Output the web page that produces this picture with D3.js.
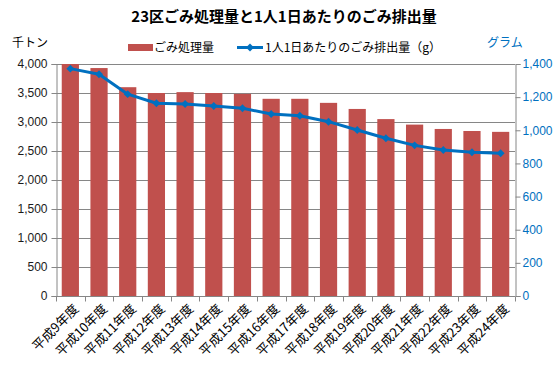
<!DOCTYPE html>
<html>
<head>
<meta charset="utf-8">
<script src="https://cdn.jsdelivr.net/npm/d3@7"></script>
<style>
  body { margin: 0; background: #fff; }
  svg { font-family: "Noto Sans CJK JP", "Noto Sans", sans-serif; }
</style>
</head>
<body>
<div id="chart"></div>
<script>
// Data.
var categories = ['平成9年度', '平成10年度', '平成11年度', '平成12年度', '平成13年度', '平成14年度',
  '平成15年度', '平成16年度', '平成17年度', '平成18年度', '平成19年度', '平成20年度',
  '平成21年度', '平成22年度', '平成23年度', '平成24年度'];
var wasteTotal = [4000, 3930, 3600, 3500, 3515, 3500, 3485, 3400, 3400, 3330, 3225, 3050, 2955, 2880, 2845, 2830];
var perCapita = [1372, 1338, 1218, 1163, 1159, 1147, 1133, 1098, 1088, 1052, 1002, 952, 909, 881, 867, 861];
var leftTicks = [0, 500, 1000, 1500, 2000, 2500, 3000, 3500, 4000];
var rightTicks = [0, 200, 400, 600, 800, 1000, 1200, 1400];

var width = 554, height = 369;
var margin = {top: 64, right: 39, bottom: 73, left: 56};
var barColor = '#C0504D', lineColor = '#0070C0', axisColor = '#868686';

var svg = d3.select('#chart')
            .append('svg')
            .attr('width', width)
            .attr('height', height);

var x = d3.scaleBand()
          .domain(categories)
          .range([margin.left, width - margin.right])
          .paddingInner(0.4)
          .paddingOuter(0.2);

var yLeft = d3.scaleLinear().domain([0, 4000]).range([height - margin.bottom, margin.top]);
var yRight = d3.scaleLinear().domain([0, 1400]).range([height - margin.bottom, margin.top]);

// Gridlines.
svg.append('g')
   .selectAll('line')
   .data(leftTicks.slice(1))
   .join('line')
   .attr('x1', margin.left)
   .attr('x2', width - margin.right)
   .attr('y1', function(d) { return yLeft(d) + 0.5; })
   .attr('y2', function(d) { return yLeft(d) + 0.5; })
   .attr('stroke', axisColor);

// Bars.
svg.append('g')
   .selectAll('rect')
   .data(wasteTotal)
   .join('rect')
   .attr('x', function(d, i) { return x(categories[i]); })
   .attr('y', function(d) { return yLeft(d); })
   .attr('width', x.bandwidth())
   .attr('height', function(d) { return yLeft(0) - yLeft(d); })
   .attr('fill', barColor);

// Left axis.
var leftAxis = svg.append('g')
   .attr('transform', 'translate(' + (margin.left + 0.5) + ',0)')
   .call(d3.axisLeft(yLeft).tickValues(leftTicks).tickSize(5).tickPadding(4).tickFormat(d3.format(',')));
leftAxis.select('.domain').attr('stroke', axisColor);
leftAxis.selectAll('.tick line').attr('stroke', axisColor);
leftAxis.selectAll('text').attr('font-size', 12).attr('fill', '#1a1a1a')
   .attr('font-family', '"Liberation Sans", Arial, sans-serif');

// Right axis.
var rightAxis = svg.append('g')
   .attr('transform', 'translate(' + (width - margin.right + 0.5) + ',0)')
   .call(d3.axisRight(yRight).tickValues(rightTicks).tickSize(5).tickPadding(2).tickFormat(d3.format(',')));
rightAxis.select('.domain').attr('stroke', axisColor);
rightAxis.selectAll('.tick line').attr('stroke', axisColor);
rightAxis.selectAll('text').attr('font-size', 12).attr('fill', lineColor)
   .attr('font-family', '"Liberation Sans", Arial, sans-serif');

// Bottom axis: ticks between categories.
var bottom = svg.append('g').attr('transform', 'translate(0,' + (yLeft(0) + 0.5) + ')');
bottom.append('line')
   .attr('x1', margin.left).attr('x2', width - margin.right)
   .attr('stroke', axisColor);
var step = x.step();
bottom.selectAll('line.sep')
   .data(d3.range(categories.length + 1))
   .join('line')
   .attr('class', 'sep')
   .attr('x1', function(i) { return Math.round(margin.left + i * step) + 0.5; })
   .attr('x2', function(i) { return Math.round(margin.left + i * step) + 0.5; })
   .attr('y1', 0).attr('y2', 5)
   .attr('stroke', axisColor);
bottom.selectAll('text')
   .data(categories)
   .join('text')
   .attr('transform', function(d) {
     return 'translate(' + (x(d) + x.bandwidth() / 2 + 6) + ',10) rotate(-45)';
   })
   .attr('text-anchor', 'end')
   .attr('dy', '0.35em')
   .attr('font-size', 13)
   .attr('fill', '#000')
   .text(function(d) { return d; });

// Line series.
var line = d3.line()
   .x(function(d, i) { return x(categories[i]) + x.bandwidth() / 2; })
   .y(function(d) { return yRight(d); });
svg.append('path')
   .datum(perCapita)
   .attr('d', line)
   .attr('fill', 'none')
   .attr('stroke', lineColor)
   .attr('stroke-width', 3)
   .attr('stroke-linejoin', 'round');
svg.append('g')
   .selectAll('path')
   .data(perCapita)
   .join('path')
   .attr('d', d3.symbol().type(d3.symbolDiamond2).size(40))
   .attr('transform', function(d, i) {
     return 'translate(' + (x(categories[i]) + x.bandwidth() / 2) + ',' + yRight(d) + ')';
   })
   .attr('fill', lineColor);

// Title and axis units.
svg.append('text')
   .attr('x', 284).attr('y', 22)
   .attr('text-anchor', 'middle')
   .attr('font-size', 15).attr('font-weight', 'bold')
   .text('23区ごみ処理量と1人1日あたりのごみ排出量');
svg.append('text')
   .attr('x', 12).attr('y', 47)
   .attr('font-size', 12)
   .text('千トン');
svg.append('text')
   .attr('x', 487).attr('y', 47)
   .attr('font-size', 12).attr('fill', lineColor)
   .text('グラム');

// Legend.
var legend = svg.append('g');
legend.append('rect')
   .attr('x', 128).attr('y', 44).attr('width', 25).attr('height', 7)
   .attr('fill', barColor);
legend.append('text')
   .attr('x', 154).attr('y', 52).attr('font-size', 12)
   .text('ごみ処理量');
legend.append('line')
   .attr('x1', 237).attr('x2', 263).attr('y1', 47.5).attr('y2', 47.5)
   .attr('stroke', lineColor).attr('stroke-width', 3);
legend.append('path')
   .attr('d', d3.symbol().type(d3.symbolDiamond2).size(40))
   .attr('transform', 'translate(250,47.5)')
   .attr('fill', lineColor);
legend.append('text')
   .attr('x', 265).attr('y', 52).attr('font-size', 12)
   .text('1人1日あたりのごみ排出量（g）');
</script>
</body>
</html>
